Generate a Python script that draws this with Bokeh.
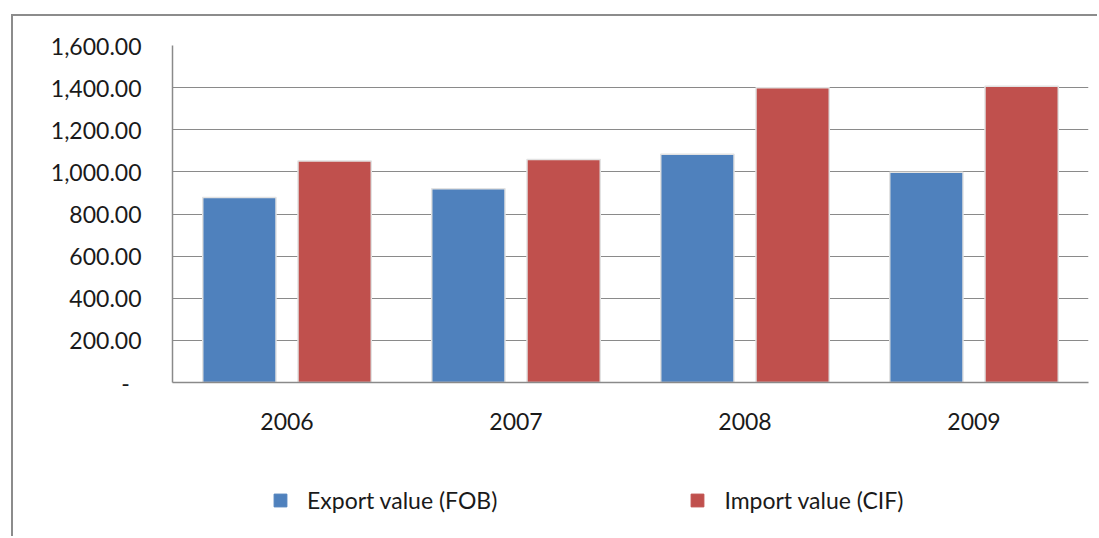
from bokeh.plotting import figure
from bokeh.models import (ColumnDataSource, FactorRange, Legend, LegendItem,
                          CustomJSTickFormatter, SingleIntervalTicker, Range1d)
from bokeh.layouts import column
from bokeh.transform import dodge
from bokeh.embed import file_html
from bokeh.resources import INLINE

years = ["2006", "2007", "2008", "2009"]
export_fob = [878, 920, 1084, 998]
import_cif = [1052, 1059, 1399, 1407]
series_names = ["Export value (FOB)", "Import value (CIF)"]
colors = ["#4F81BD", "#C0504D"]

FONT = "Lato"
src = ColumnDataSource(dict(year=years, exp=export_fob, imp=import_cif))

# main chart
p = figure(x_range=FactorRange(*years), y_range=(0, 1600),
           width=1084, height=434, output_backend="svg", toolbar_location=None,
           min_border_left=159, min_border_top=29, min_border_right=9,
           min_border_bottom=68)

p.vbar(x=dodge("year", -0.208, range=p.x_range), top="exp", width=0.32,
       source=src, fill_color=colors[0], line_color="#e2e2e2", line_width=1.5)
p.vbar(x=dodge("year", 0.208, range=p.x_range), top="imp", width=0.32,
       source=src, fill_color=colors[1], line_color="#e2e2e2", line_width=1.5)

p.outline_line_color = None
p.xgrid.grid_line_color = None
p.ygrid.grid_line_color = "#8a8a8a"
p.ygrid.grid_line_width = 1.2
p.yaxis.ticker = SingleIntervalTicker(interval=200)
p.yaxis.formatter = CustomJSTickFormatter(code="""
if (tick == 0) { return "-\\u00a0\\u00a0"; }
return tick.toLocaleString('en-US', {minimumFractionDigits: 2, maximumFractionDigits: 2});
""")
for ax in (p.xaxis, p.yaxis):
    ax.axis_line_color = "#8a8a8a"
    ax.axis_line_width = 1.5
    ax.major_tick_line_color = None
    ax.minor_tick_line_color = None
    ax.major_tick_out = 0
    ax.major_tick_in = 0
    ax.major_label_text_font = FONT
    ax.major_label_text_font_size = "23px"
    ax.major_label_text_color = "#1a1a1a"
p.yaxis.major_label_standoff = 27
p.xaxis.major_label_standoff = 30

# legend strip below the chart
q = figure(x_range=FactorRange(*years), y_range=Range1d(0, 1600),
           width=1084, height=86, output_backend="svg", toolbar_location=None,
           min_border=0)
q.axis.visible = False
q.grid.visible = False
q.outline_line_color = None
l1 = q.vbar(x="year", top="exp", width=0.32, source=src,
            fill_color=colors[0], line_color=colors[0], visible=False)
l2 = q.vbar(x="year", top="imp", width=0.32, source=src,
            fill_color=colors[1], line_color=colors[1], visible=False)

leg = Legend(items=[LegendItem(label=series_names[0], renderers=[l1]),
                    LegendItem(label=series_names[1], renderers=[l2])],
             location=(100, 22), orientation="horizontal")
leg.border_line_color = None
leg.background_fill_alpha = 0
leg.inactive_fill_alpha = 0
leg.padding = 0
leg.margin = 0
leg.spacing = 192
leg.glyph_width = 16
leg.glyph_height = 16
leg.label_standoff = 19
leg.label_text_font = FONT
leg.label_text_font_size = "23px"
leg.label_text_color = "#1a1a1a"
q.add_layout(leg)

layout = column(p, q, spacing=0,
                styles={"margin-left": "11px", "margin-top": "14px",
                        "border-top": "2px solid #8c8c8c",
                        "border-left": "2px solid #8c8c8c"})

open("out.html", "w").write(file_html(layout, INLINE))
